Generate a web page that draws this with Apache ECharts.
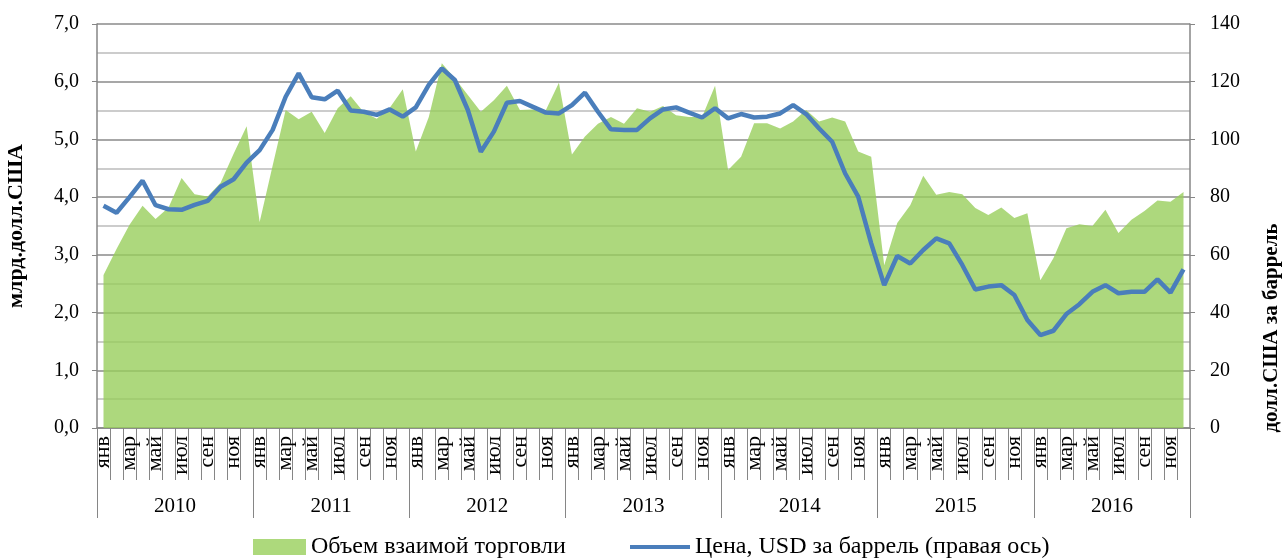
<!DOCTYPE html>
<html>
<head>
<meta charset="utf-8">
<script src="https://cdn.jsdelivr.net/npm/echarts@6/dist/echarts.min.js"></script>
<style>
  html, body { margin: 0; padding: 0; background: #fff; }
  #chart { width: 1286px; height: 558px; }
</style>
</head>
<body>
<div id="chart"></div>
<script>
// подписи месяцев и годов
const monthNames = ['янв', 'фев', 'мар', 'апр', 'май', 'июн', 'июл', 'авг', 'сен', 'окт', 'ноя', 'дек'];
const years = ['2010', '2011', '2012', '2013', '2014', '2015', '2016'];

// объем взаимной торговли, млрд. долл. США
const tradeVolume = [
  2.65, 3.10, 3.52, 3.85, 3.62, 3.82, 4.33, 4.05, 4.01, 4.25, 4.75, 5.23,
  3.57, 4.55, 5.51, 5.35, 5.48, 5.11, 5.54, 5.75, 5.47, 5.36, 5.55, 5.87,
  4.79, 5.39, 6.32, 6.06, 5.77, 5.48, 5.68, 5.93, 5.51, 5.52, 5.51, 5.98,
  4.74, 5.05, 5.27, 5.39, 5.27, 5.54, 5.48, 5.58, 5.42, 5.39, 5.39, 5.93,
  4.47, 4.70, 5.28, 5.28, 5.19, 5.31, 5.51, 5.31, 5.38, 5.31, 4.79, 4.70,
  2.82, 3.55, 3.86, 4.37, 4.04, 4.09, 4.05, 3.81, 3.69, 3.82, 3.64, 3.72,
  2.56, 2.94, 3.46, 3.53, 3.50, 3.78, 3.38, 3.61, 3.76, 3.94, 3.92, 4.09
];

// цена нефти, USD за баррель
const oilPrice = [
  77.0, 74.6, 80.0, 85.7, 77.2, 75.8, 75.6, 77.3, 78.7, 83.6, 86.2, 92.0,
  96.3, 103.3, 114.8, 122.9, 114.6, 113.9, 116.9, 110.0, 109.6, 108.5, 110.4, 107.9,
  111.1, 118.9, 124.6, 120.6, 110.2, 95.7, 102.7, 112.7, 113.3, 111.3, 109.3, 109.0,
  111.9, 116.2, 109.6, 103.5, 103.3, 103.3, 107.3, 110.4, 111.1, 109.3, 107.6, 110.8,
  107.3, 108.8, 107.6, 107.9, 109.0, 111.9, 108.8, 103.8, 99.2, 88.2, 80.2, 64.0,
  49.5, 59.6, 57.0, 61.7, 65.7, 64.0, 56.5, 48.0, 49.0, 49.5, 46.1, 37.4,
  32.2, 33.7, 39.5, 42.9, 47.2, 49.5, 46.7, 47.2, 47.2, 51.5, 46.9, 55.0
];

const months = [];
years.forEach(() => months.push(...monthNames));

const font = 'Liberation Serif';
const axisGray = '#868686';

const chart = echarts.init(document.getElementById('chart'));
chart.setOption({
  animation: false,
  textStyle: { fontFamily: font, color: '#000' },
  grid: { left: 97, right: 96, top: 24, bottom: 130, outerBoundsMode: 'none' },
  legend: [
    {
      left: 253, top: 535,
      itemWidth: 53, itemHeight: 16, padding: 0,
      textStyle: { fontFamily: font, fontSize: 24, color: '#000' },
      data: [{ name: 'Объем взаимой торговли', icon: 'rect', itemStyle: { color: '#ADD97C' } }]
    },
    {
      left: 630, top: 535,
      itemWidth: 60, itemHeight: 4, padding: 0,
      textStyle: { fontFamily: font, fontSize: 24, color: '#000' },
      data: [{ name: 'Цена, USD за баррель (правая ось)', icon: 'rect', itemStyle: { color: '#4A7EBB' } }]
    }
  ],
  xAxis: [
    {
      type: 'category',
      data: months,
      position: 'bottom',
      boundaryGap: true,
      axisLine: { show: true, lineStyle: { color: axisGray, width: 1.5 } },
      axisTick: { show: true, interval: 0, length: 52, lineStyle: { color: axisGray } },
      axisLabel: {
        interval: 1, rotate: 90, margin: 8,
        fontFamily: font, fontSize: 22, color: '#000'
      }
    },
    {
      type: 'category',
      data: years,
      position: 'bottom',
      boundaryGap: true,
      axisLine: { show: false },
      axisTick: { show: true, interval: 0, length: 90, lineStyle: { color: axisGray } },
      axisLabel: { interval: 0, margin: 68, fontFamily: font, fontSize: 21, color: '#000' }
    }
  ],
  yAxis: [
    {
      type: 'value',
      min: 0, max: 7, interval: 1,
      name: 'млрд.долл.США',
      nameLocation: 'middle',
      nameRotate: 90,
      nameGap: 70,
      nameTextStyle: { fontFamily: font, fontSize: 22, fontWeight: 'bold', color: '#000' },
      axisLine: { show: true, lineStyle: { color: axisGray, width: 1.5 } },
      axisTick: { show: true, length: 5, lineStyle: { color: axisGray } },
      axisLabel: {
        margin: 18, fontFamily: font, fontSize: 20, color: '#000',
        formatter: v => v.toFixed(1).replace('.', ',')
      },
      splitLine: { show: true, lineStyle: { color: '#8a8a8a', width: 1.5 } },
      minorTick: { show: false, splitNumber: 2 },
      minorSplitLine: { show: true, lineStyle: { color: '#bcbcbc', width: 1.5 } }
    },
    {
      type: 'value',
      min: 0, max: 140, interval: 20,
      position: 'right',
      axisLine: { show: true, lineStyle: { color: axisGray, width: 1.5 } },
      axisTick: { show: true, length: 5, lineStyle: { color: axisGray } },
      axisLabel: { margin: 20, fontFamily: font, fontSize: 20, color: '#000' },
      splitLine: { show: false }
    }
  ],
  graphic: [
    {
      type: 'text',
      x: 1272, y: 328,
      rotation: Math.PI / 2,
      style: {
        text: 'долл.США за баррель',
        font: 'bold 21px "Liberation Serif"',
        fill: '#000',
        textAlign: 'center',
        textVerticalAlign: 'middle'
      }
    }
  ],
  series: [
    {
      name: 'Объем взаимой торговли',
      type: 'line',
      xAxisIndex: 0,
      yAxisIndex: 0,
      data: tradeVolume,
      symbol: 'none',
      itemStyle: { color: '#ADD97C' },
      lineStyle: { width: 0 },
      areaStyle: { color: 'rgb(152,206,92)', opacity: 0.8 },
      z: 2
    },
    {
      name: 'Цена, USD за баррель (правая ось)',
      type: 'line',
      xAxisIndex: 0,
      yAxisIndex: 1,
      data: oilPrice,
      symbol: 'none',
      itemStyle: { color: '#4A7EBB' },
      lineStyle: { color: '#4A7EBB', width: 4.5 },
      z: 3
    }
  ]
});
</script>
</body>
</html>
